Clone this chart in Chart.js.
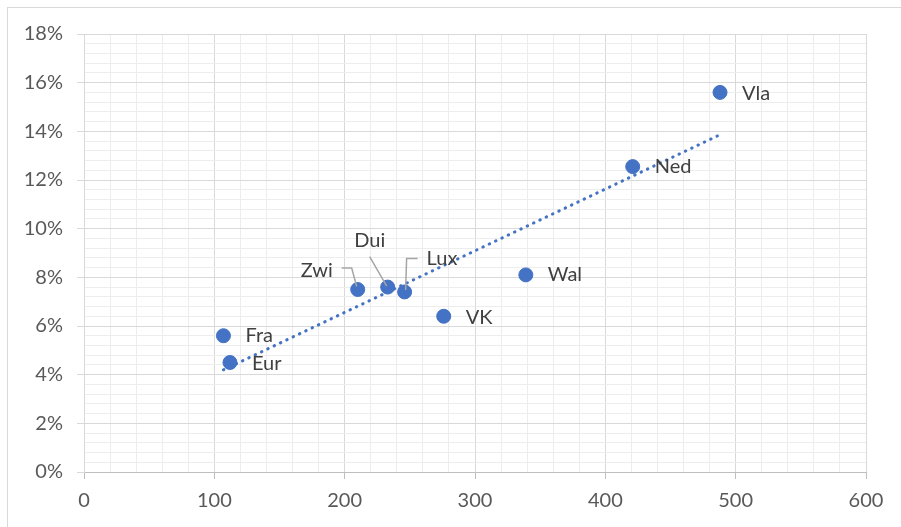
<!DOCTYPE html>
<html>
<head>
<meta charset="utf-8">
<script src="https://cdn.jsdelivr.net/npm/chart.js@4/dist/chart.umd.min.js"></script>
<style>
    html, body { margin: 0; padding: 0; background: #fff; }
    #wrap { width: 901px; height: 527px; }
</style>
</head>
<body>
<div id="wrap"><canvas id="chart"></canvas></div>
<script>
// country codes and their values
var names = ["Fra", "Eur", "Zwi", "Dui", "Lux", "VK", "Wal", "Ned", "Vla"];
var xValues = [107, 112, 210, 233, 246, 276, 339, 421, 488];
var yValues = [5.6, 4.5, 7.5, 7.6, 7.4, 6.4, 8.1, 12.55, 15.6];

// dotted trend line, start and end as seen in the picture
var trendX = [107, 488];
var trendY = [4.2, 13.86];

// axis ticks
var xTicks = [0, 100, 200, 300, 400, 500, 600];
var yTicks = [0, 2, 4, 6, 8, 10, 12, 14, 16, 18];

var BLUE = "#4472C4";
var FONT = "Lato";

/** Where each label sits relative to its point (px), plus optional leader line */
var labelPlacement = {
    Fra: { dx: 22, dy: 0 },
    Eur: { dx: 22, dy: 1 },
    Zwi: { dx: -25, dy: -19, align: "right", leader: [[-16, -21.5], [-6, -21.5], [-1, -3]] },
    Dui: { dx: -18, dy: -47, align: "center", leader: [[-18, -30.5], [-1, -1]] },
    Lux: { dx: 22, dy: -33, leader: [[13, -33.5], [2, -33.5], [1, -2]] },
    VK: { dx: 22, dy: 1 },
    Wal: { dx: 22, dy: 0 },
    Ned: { dx: 22, dy: 0 },
    Vla: { dx: 22, dy: 1 }
};

function isMajor(value, step) {
    var r = value / step;
    return Math.abs(r - Math.round(r)) < 1e-6;
}

var frame = {
    id: "frame",
    beforeDraw: function(chart) {
        var ctx = chart.ctx;
        ctx.save();
        ctx.fillStyle = "#fff";
        ctx.fillRect(0, 0, chart.width, chart.height);
        ctx.strokeStyle = "#d9d9d9";
        ctx.lineWidth = 1;
        ctx.strokeRect(7.5, 7.5, chart.width + 20, chart.height + 20);
        ctx.restore();
    }
};

var pointLabels = {
    id: "pointLabels",
    afterDatasetsDraw: function(chart) {
        var ctx = chart.ctx;
        var meta = chart.getDatasetMeta(1);
        ctx.save();
        ctx.font = "20px " + FONT;
        ctx.textBaseline = "middle";
        meta.data.forEach(function(el, i) {
            var p = labelPlacement[names[i]];
            if (p.leader) {
                ctx.strokeStyle = "#a6a6a6";
                ctx.lineWidth = 1.5;
                ctx.beginPath();
                p.leader.forEach(function(pt, k) {
                    if (k === 0) ctx.moveTo(el.x + pt[0], el.y + pt[1]);
                    else ctx.lineTo(el.x + pt[0], el.y + pt[1]);
                });
                ctx.stroke();
            }
            ctx.fillStyle = "#404040";
            ctx.textAlign = p.align || "left";
            ctx.fillText(names[i], el.x + p.dx, el.y + p.dy);
        });
        ctx.restore();
    }
};

new Chart(document.getElementById("chart"), {
    type: "scatter",
    data: {
        datasets: [
            {
                label: "trend",
                data: trendX.map(function(x, i) { return { x: x, y: trendY[i] }; }),
                showLine: true,
                borderColor: BLUE,
                borderWidth: 3,
                borderDash: [0.5, 6.5],
                borderCapStyle: "round",
                pointRadius: 0,
                order: 2
            },
            {
                label: "landen",
                data: xValues.map(function(x, i) { return { x: x, y: yValues[i] }; }),
                backgroundColor: BLUE,
                borderColor: BLUE,
                pointRadius: 7,
                pointHoverRadius: 7,
                order: 1
            }
        ]
    },
    options: {
        responsive: true,
        maintainAspectRatio: false,
        animation: false,
        layout: { padding: { top: 34, right: 35, left: 0, bottom: 0 } },
        plugins: { legend: { display: false }, tooltip: { enabled: false } },
        scales: {
            x: {
                type: "linear",
                min: xTicks[0],
                max: xTicks[xTicks.length - 1],
                afterFit: function(scale) { scale.height = 55; },
                ticks: {
                    stepSize: 20,
                    autoSkip: false,
                    maxRotation: 0,
                    padding: 10,
                    color: "#595959",
                    font: { family: FONT, size: 20 },
                    callback: function(v) { return xTicks.indexOf(v) >= 0 ? String(v) : ""; }
                },
                grid: {
                    color: function(c) { return isMajor(c.tick.value, 100) ? "#d9d9d9" : "#ededed"; },
                    tickColor: function(c) { return isMajor(c.tick.value, 100) ? "#bfbfbf" : "rgba(0,0,0,0)"; },
                    tickLength: 7,
                    lineWidth: 1
                },
                border: { color: "#bfbfbf", width: 1 }
            },
            y: {
                type: "linear",
                min: yTicks[0],
                max: yTicks[yTicks.length - 1],
                afterFit: function(scale) { scale.width = 84; },
                ticks: {
                    stepSize: 0.4,
                    autoSkip: false,
                    padding: 14,
                    color: "#595959",
                    font: { family: FONT, size: 20 },
                    callback: function(v) {
                        var r = Math.round(v);
                        return (isMajor(v, 2) && yTicks.indexOf(r) >= 0) ? r + "%" : "";
                    }
                },
                grid: {
                    color: function(c) { return isMajor(c.tick.value, 2) ? "#d9d9d9" : "#ededed"; },
                    tickColor: function(c) { return isMajor(c.tick.value, 2) ? "#d9d9d9" : "rgba(0,0,0,0)"; },
                    tickLength: 7,
                    lineWidth: 1
                },
                border: { color: "#d9d9d9", width: 1 }
            }
        }
    },
    plugins: [frame, pointLabels]
});
</script>
</body>
</html>
